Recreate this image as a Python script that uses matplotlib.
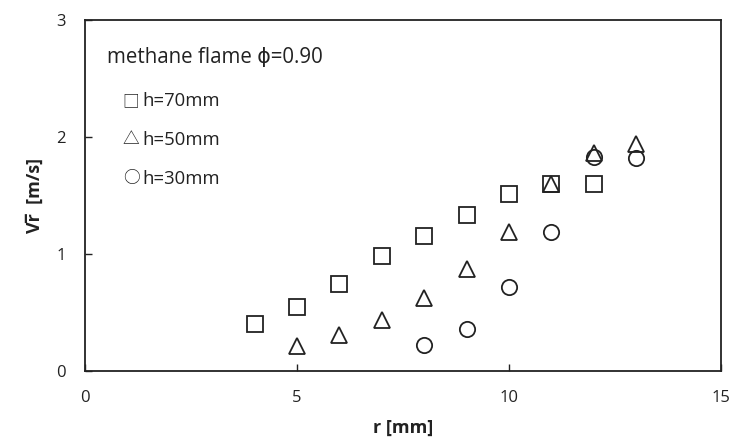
import matplotlib
matplotlib.use("Agg")
import matplotlib.pyplot as plt

# Radial velocity profiles at three heights
r_70 = [4, 5, 6, 7, 8, 9, 10, 11, 12]
v_70 = [0.40, 0.55, 0.745, 0.985, 1.15, 1.33, 1.51, 1.60, 1.60]

r_50 = [5, 6, 7, 8, 9, 10, 11, 12, 13]
v_50 = [0.21, 0.31, 0.44, 0.62, 0.87, 1.19, 1.60, 1.86, 1.94]

r_30 = [8, 9, 10, 11, 12, 13]
v_30 = [0.22, 0.36, 0.72, 1.19, 1.83, 1.82]

x_ticks = [0, 5, 10, 15]
y_ticks = [0, 1, 2, 3]

ink = "#222222"
fam = ["Open Sans", "DejaVu Sans"]
sym_fam = ["Noto Sans CJK JP", "DejaVu Sans"]

plt.rcParams["font.family"] = fam

fig = plt.figure(figsize=(7.32, 4.42), dpi=100)
ax = fig.add_axes([0.1161, 0.1606, 0.8689, 0.7942])

style = dict(linestyle="none", markerfacecolor="none", markeredgecolor=ink,
             markeredgewidth=1.3, clip_on=False)
ax.plot(r_70, v_70, marker="s", markersize=11, **style)
ax.plot(r_50, v_50, marker="^", markersize=11.5, **style)
ax.plot(r_30, v_30, marker="o", markersize=11, **style)

ax.set_xlim(0, 15)
ax.set_ylim(0, 3)
ax.set_xticks(x_ticks)
ax.set_yticks(y_ticks)
ax.tick_params(direction="in", length=5, width=1, color=ink, labelcolor=ink,
               labelsize=12, pad=14)
for s in ax.spines.values():
    s.set_color(ink)
    s.set_linewidth(1.3)

ax.set_xlabel("r [mm]", fontsize=13, fontweight="bold", color=ink, labelpad=9)
ax.set_ylabel("Vr\u0305  [m/s]", fontsize=13, fontweight="bold", color=ink, labelpad=9)

ax.text(0.035, 0.893, "methane flame \u03d5=0.90", transform=ax.transAxes,
        fontsize=14.8, color=ink, va="center", ha="left")

symbols = ["\u25a1", "\u25b3", "\u25cb"]
labels = ["h=70mm", "h=50mm", "h=30mm"]
ypos = [0.768, 0.659, 0.548]
for sym, lab, yy in zip(symbols, labels, ypos):
    ax.text(0.0725, yy, sym, transform=ax.transAxes, fontsize=12, color=ink,
            va="center", ha="center", family=sym_fam)
    ax.text(0.0905, yy, lab, transform=ax.transAxes, fontsize=13.3, color=ink,
            va="center", ha="left")

fig.savefig("out.png", dpi=100)
